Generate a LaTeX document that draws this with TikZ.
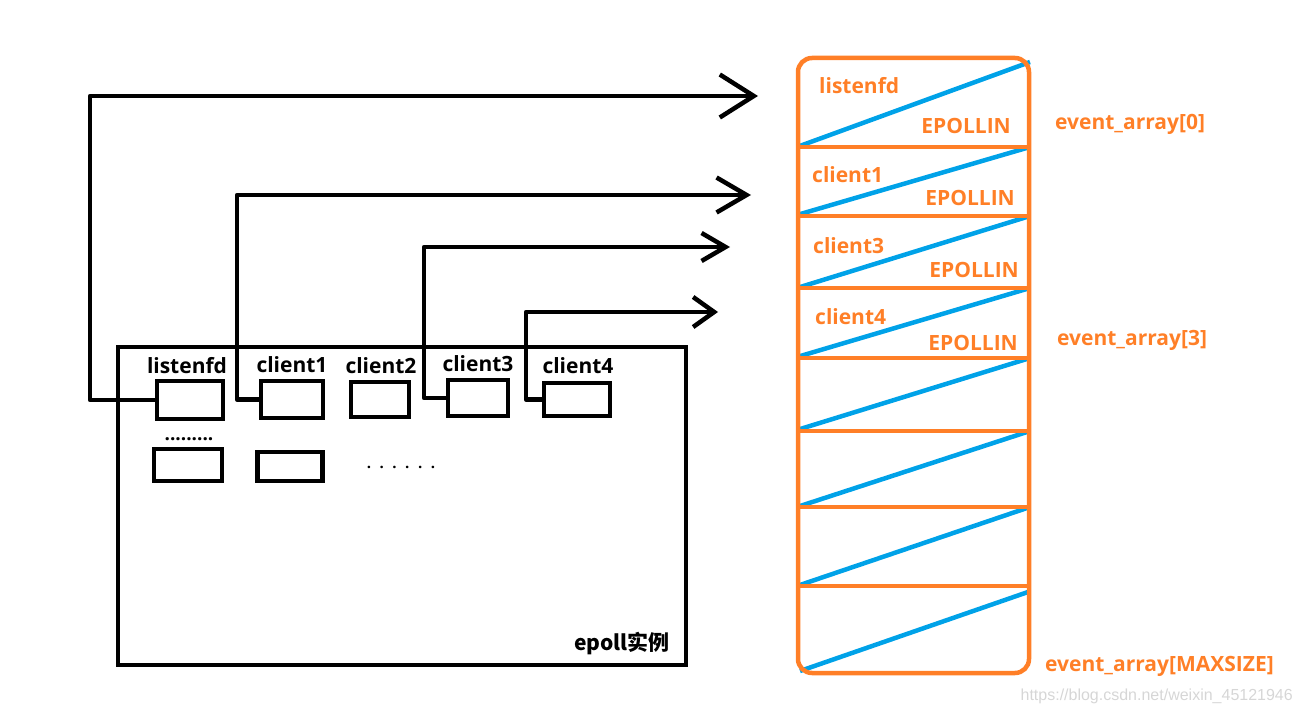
\documentclass[tikz,border=0pt]{standalone}
\usepackage{fontspec}
\setmainfont{Open Sans}
\newfontfamily\cjk{Noto Sans CJK SC}
\newfontfamily\wm{Liberation Sans}
\usetikzlibrary{arrows.meta}
\definecolor{aorange}{RGB}{255,127,39}
\definecolor{ablue}{RGB}{0,162,232}
\begin{document}
\begin{tikzpicture}[x=1pt,y=-1pt,
  blk/.style={draw=black, line width=4.5pt, inner sep=0pt},
  lbl/.style={font=\fontsize{21}{25}\selectfont\bfseries, inner sep=0pt},
  olbl/.style={lbl, text=aorange},
  conn/.style={line width=4.5pt, line cap=round, line join=round},
  cell/.style={draw=aorange, line width=4.5pt},
  diag/.style={draw=ablue, line width=4.5pt},
  dots/.style={font=\fontsize{19}{21}\selectfont\bfseries, inner sep=0pt, anchor=base}
]
\useasboundingbox (0,0) rectangle (1304,714);

% epoll instance
\node[blk, minimum width=568pt, minimum height=318pt] (ep) at (402,506) {};
\node[lbl, anchor=base, font=\fontsize{21}{25}\selectfont\cjk\bfseries] (epl) at (622,650) {epoll实例};

% fd boxes
\node[blk, minimum width=66pt, minimum height=38pt] (lb) at (190,400) {};
\node[blk, minimum width=62pt, minimum height=37pt] (c1b) at (292,399.5) {};
\node[blk, minimum width=58pt, minimum height=35pt] (c2b) at (380,399.5) {};
\node[blk, minimum width=60pt, minimum height=36pt] (c3b) at (478,398) {};
\node[blk, minimum width=66pt, minimum height=33pt] (c4b) at (577,399.5) {};
\node[blk, minimum width=68pt, minimum height=32pt] (r2a) at (188,465) {};
\node[blk, minimum width=65pt, minimum height=29pt] (r2b) at (290,466.5) {};

\node[lbl, anchor=base] (llb) at (187,373) {listenfd};
\node[lbl, anchor=base] (l1) at (292,372) {client1};
\node[lbl, anchor=base] (l2) at (381,373) {client2};
\node[lbl, anchor=base] (l3) at (478,371) {client3};
\node[lbl, anchor=base] (l4) at (578,373) {client4};

\node[dots] (d1) at (189,440) {.........};
\node[dots, font=\fontsize{15}{17}\selectfont\bfseries] (d2) at (401,468) {.\kern8.5pt.\kern8.5pt.\kern8.5pt.\kern8.5pt.\kern8.5pt.};

% connectors
\coordinate (k1) at (90,96);  \coordinate (t1) at (758,96);
\coordinate (k2) at (237,195); \coordinate (t2) at (751,195);
\coordinate (k3) at (424,247); \coordinate (t3) at (730,247);
\coordinate (k4) at (526,312); \coordinate (t4) at (718,312);
\draw[conn, -{Straight Barb[length=34pt,width=43pt]}] (lb.west) -| (k1) -- (t1);
\draw[conn, -{Straight Barb[length=30pt,width=35pt]}] (c1b.west) -| (k2) -- (t2);
\draw[conn, -{Straight Barb[length=24pt,width=28pt]}] (c3b.west) -| (k3) -- (t3);
\draw[conn, -{Straight Barb[length=21pt,width=30pt]}] (c4b.west) -| (k4) -- (t4);

% event array
\foreach \a/\b in {147/62,215/147,288/216,357/288,430/358,507/431,586/507}
  \draw[diag] (797,\a) -- (1030,\b);
\draw[diag] (800,671) -- (1028,592);
\draw[cell, rounded corners=14pt] (798,58) rectangle (1029,673);
\foreach \y in {147,216,288,358,431,507,586}
  \draw[cell] (798,\y) -- (1029,\y);

\node[olbl, anchor=base west] (e0a) at (819,94) {listenfd};
\node[olbl, anchor=base east] (e0b) at (1011,134) {EPOLLIN};
\node[olbl, anchor=base west] (e1a) at (812,183) {client1};
\node[olbl, anchor=base east] (e1b) at (1015,206) {EPOLLIN};
\node[olbl, anchor=base west] (e2a) at (813,254) {client3};
\node[olbl, anchor=base east] (e2b) at (1019,277) {EPOLLIN};
\node[olbl, anchor=base west] (e3a) at (815,324) {client4};
\node[olbl, anchor=base east] (e3b) at (1018,350) {EPOLLIN};

\node[olbl, anchor=base west] (ix0) at (1055,130) {event\_array[0]};
\node[olbl, anchor=base west] (ix3) at (1057,345) {event\_array[3]};
\node[olbl, anchor=base west] (ixm) at (1045,671) {event\_array[MAXSIZE]};

\node[anchor=base east, inner sep=0pt, font=\wm\fontsize{16}{19}\selectfont, text=black!16] (wm) at (1293,700) {https://blog.csdn.net/weixin\_45121946};
\end{tikzpicture}
\end{document}
